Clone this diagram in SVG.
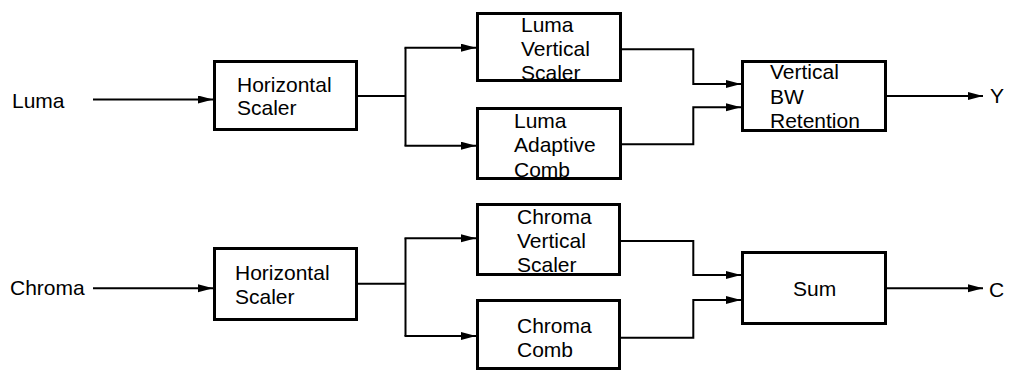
<svg xmlns="http://www.w3.org/2000/svg" width="1011" height="372" viewBox="0 0 1011 372">
<style>
.box{fill:#fff;stroke:#000;stroke-width:3}
.ln{fill:none;stroke:#000;stroke-width:2}
text{font-family:"Liberation Sans",Arial,sans-serif;font-size:21px;fill:#000}
</style>
<defs>
<marker id="ah" markerUnits="userSpaceOnUse" markerWidth="16" markerHeight="10" refX="15" refY="4" orient="auto">
<path d="M0,0 L15,4 L0,8 z" fill="#000"/>
</marker>
</defs>
<rect width="1011" height="372" fill="#fff"/>
<g id="connectors">
<path class="ln" d="M93,99.5 H213" marker-end="url(#ah)"/>
<path class="ln" d="M358,96 H405.5"/>
<path class="ln" d="M405.5,47.7 V145.7"/>
<path class="ln" d="M404.5,47.7 H476" marker-end="url(#ah)"/>
<path class="ln" d="M404.5,145.7 H476" marker-end="url(#ah)"/>
<path class="ln" d="M622,49.3 H693.3 V84 H741" marker-end="url(#ah)"/>
<path class="ln" d="M622,144.3 H693.3 V107.3 H741" marker-end="url(#ah)"/>
<path class="ln" d="M887,96 H983" marker-end="url(#ah)"/>
<path class="ln" d="M93,288.3 H213" marker-end="url(#ah)"/>
<path class="ln" d="M358,283.7 H405.5"/>
<path class="ln" d="M405.5,238.3 V336"/>
<path class="ln" d="M404.5,238.3 H476" marker-end="url(#ah)"/>
<path class="ln" d="M404.5,336 H476" marker-end="url(#ah)"/>
<path class="ln" d="M621,241 H693.3 V275 H741" marker-end="url(#ah)"/>
<path class="ln" d="M621,337.7 H693.3 V300 H741" marker-end="url(#ah)"/>
<path class="ln" d="M887,288.3 H983" marker-end="url(#ah)"/>
</g>
<g id="label-luma"><text x="12" y="108">Luma</text></g>
<g id="label-chroma"><text x="10" y="295">Chroma</text></g>
<g id="label-y"><text x="990" y="103">Y</text></g>
<g id="label-c"><text x="989" y="297">C</text></g>
<g id="hs1">
<rect class="box" x="214.5" y="61.5" width="142" height="68"/>
<text x="237" y="92">Horizontal</text>
<text x="237" y="115">Scaler</text>
</g>
<g id="lvs">
<rect class="box" x="477.5" y="13.5" width="143" height="67"/>
<text x="521" y="32">Luma</text>
<text x="521" y="56">Vertical</text>
<text x="521" y="80">Scaler</text>
</g>
<g id="lac">
<rect class="box" x="477.5" y="108.5" width="143" height="70"/>
<text x="514" y="128">Luma</text>
<text x="514" y="152">Adaptive</text>
<text x="514" y="177">Comb</text>
</g>
<g id="vbw">
<rect class="box" x="742.5" y="61.5" width="143" height="69"/>
<text x="770" y="79">Vertical</text>
<text x="770" y="104">BW</text>
<text x="770" y="128">Retention</text>
</g>
<g id="hs2">
<rect class="box" x="214.5" y="248.5" width="142" height="71"/>
<text x="235" y="280">Horizontal</text>
<text x="235" y="304">Scaler</text>
</g>
<g id="cvs">
<rect class="box" x="477.5" y="204.5" width="142" height="70"/>
<text x="517" y="224">Chroma</text>
<text x="517" y="248">Vertical</text>
<text x="517" y="272">Scaler</text>
</g>
<g id="cc">
<rect class="box" x="477.5" y="300.5" width="142" height="68"/>
<text x="517" y="333">Chroma</text>
<text x="517" y="357">Comb</text>
</g>
<g id="sum">
<rect class="box" x="742.5" y="252.5" width="143" height="71"/>
<text x="793" y="296">Sum</text>
</g>
</svg>
